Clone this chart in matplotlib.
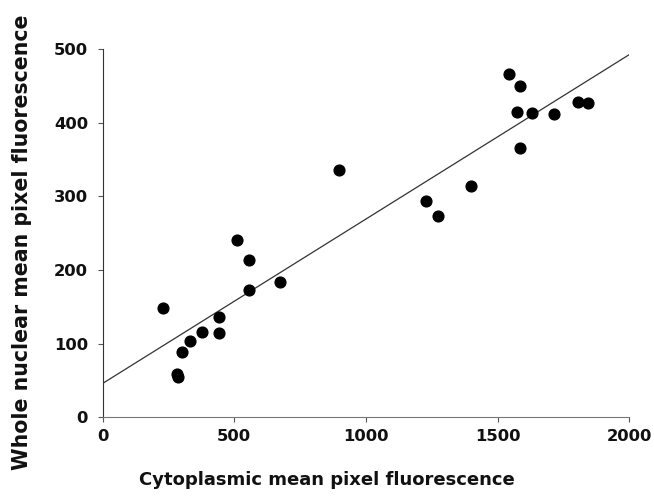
import numpy as np
import matplotlib.pyplot as plt

plt.rcParams['font.family'] = ['DejaVu Sans']

# cytoplasmic vs whole nuclear mean pixel fluorescence
cyto = [231, 284, 286, 302, 332, 378, 440, 440, 512, 556, 556, 675, 897,
        1230, 1274, 1401, 1544, 1587, 1573, 1630, 1584, 1715, 1806, 1844]
nuclear = [149, 59, 55, 89, 104, 116, 136, 114, 241, 213, 173, 184, 336,
           293, 273, 314, 466, 450, 414, 413, 366, 412, 428, 427]

# regression line endpoints
fit_x = [0, 2000]
fit_y = [46, 492]

fig = plt.figure(figsize=(6.54, 4.98), dpi=100)
ax = fig.add_axes([0.157, 0.162, 0.805, 0.740])

ax.plot(fit_x, fit_y, color='#333333', lw=0.9, zorder=1)
ax.scatter(cyto, nuclear, s=60, color='black', zorder=2)

ax.set_xlim(0, 2000)
ax.set_ylim(0, 500)
ax.set_xticks([0, 500, 1000, 1500, 2000])
ax.set_yticks([0, 100, 200, 300, 400, 500])

for s in ['top', 'right']:
    ax.spines[s].set_visible(False)
ax.spines['left'].set_color('#333333')
ax.spines['bottom'].set_color('#777777')
ax.tick_params(axis='both', direction='out', length=3.6, width=0.8,
               colors='#555555', labelcolor='#111111', labelsize=11.8)
ax.tick_params(axis='y', pad=7)
ax.tick_params(axis='x', pad=5)
for lab in ax.get_xticklabels() + ax.get_yticklabels():
    lab.set_fontweight('bold')

ax.set_xlabel('Cytoplasmic mean pixel fluorescence', fontsize=13,
              fontweight='bold', color='#111111')
ax.xaxis.set_label_coords(0.426, -0.145)
ax.set_ylabel('Whole nuclear mean pixel fluorescence', fontsize=14.8,
              fontweight='bold', color='#111111')
ax.yaxis.set_label_coords(-0.135, 0.475)

fig.savefig('out.png', dpi=100)
